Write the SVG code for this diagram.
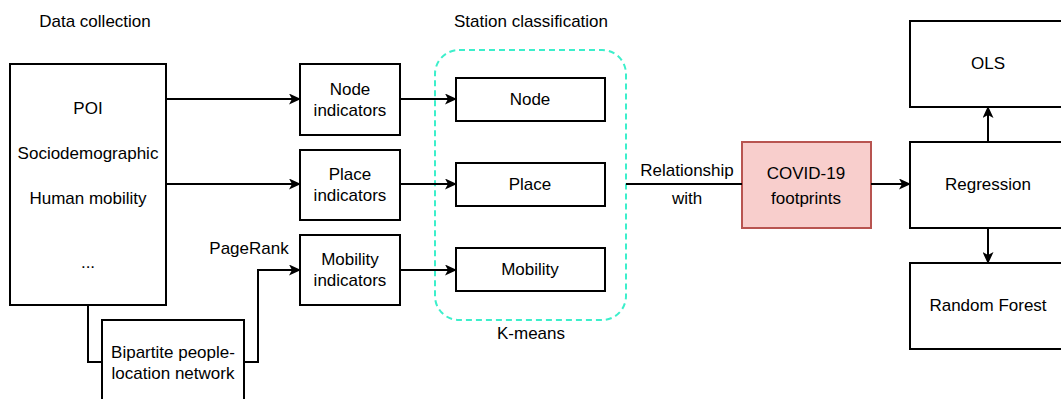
<svg xmlns="http://www.w3.org/2000/svg" width="1061" height="399" viewBox="0 0 1061 399">
<defs>
<style>
.box{fill:#fff;stroke:#000;stroke-width:2}
.t{font-family:"Liberation Sans",Arial,sans-serif;font-size:17px;fill:#000;text-anchor:middle}
.c{fill:none;stroke:#000;stroke-width:2}
</style>
<marker id="ah" viewBox="0 0 12 11" refX="11" refY="5.5" markerWidth="12" markerHeight="11" markerUnits="userSpaceOnUse" orient="auto">
<path d="M0,0 L12,5.5 L0,11 L3,5.5 Z" fill="#000"/>
</marker>
</defs>
<rect width="1061" height="399" fill="#fff"/>
<text class="t" x="95" y="27">Data collection</text>
<text class="t" x="531" y="27">Station classification</text>
<g id="group-kmeans">
<rect x="435" y="50" width="191" height="270" rx="24" ry="24" fill="none" stroke="#3DEFCB" stroke-width="2" stroke-dasharray="6,4"/>
<text class="t" x="531" y="339">K-means</text>
</g>
<g id="data">
<rect class="box" x="10" y="64" width="156" height="241"/>
<text class="t" x="88" y="114">POI</text>
<text class="t" x="88" y="159">Sociodemographic</text>
<text class="t" x="88" y="204">Human mobility</text>
<text class="t" x="88" y="268">...</text>
</g>
<g id="bipartite">
<rect class="box" x="102" y="320" width="142" height="95"/>
<text class="t" x="173" y="358">Bipartite people-</text>
<text class="t" x="173" y="379">location network</text>
</g>
<g id="node-ind">
<rect class="box" x="300" y="64" width="100" height="71"/>
<text class="t" x="350" y="95">Node</text>
<text class="t" x="350" y="116">indicators</text>
</g>
<g id="place-ind">
<rect class="box" x="300" y="150" width="100" height="70"/>
<text class="t" x="350" y="180">Place</text>
<text class="t" x="350" y="201">indicators</text>
</g>
<g id="mob-ind">
<rect class="box" x="300" y="235" width="100" height="70"/>
<text class="t" x="350" y="265">Mobility</text>
<text class="t" x="350" y="286">indicators</text>
</g>
<g id="node">
<rect class="box" x="456" y="78" width="149" height="43"/>
<text class="t" x="530" y="105">Node</text>
</g>
<g id="place">
<rect class="box" x="456" y="163" width="149" height="43"/>
<text class="t" x="530" y="190">Place</text>
</g>
<g id="mobility">
<rect class="box" x="456" y="248" width="149" height="43"/>
<text class="t" x="530" y="275">Mobility</text>
</g>
<g id="covid">
<rect x="742" y="142" width="129" height="86" fill="#F8CECC" stroke="#B85450" stroke-width="2"/>
<text class="t" x="806" y="179">COVID-19</text>
<text class="t" x="806" y="204">footprints</text>
</g>
<g id="regression">
<rect class="box" x="910" y="142" width="156" height="86"/>
<text class="t" x="988" y="190">Regression</text>
</g>
<g id="ols">
<rect class="box" x="910" y="21" width="156" height="86"/>
<text class="t" x="988" y="69">OLS</text>
</g>
<g id="rf">
<rect class="box" x="910" y="263" width="156" height="86"/>
<text class="t" x="988" y="311">Random Forest</text>
</g>
<g id="connectors">
<path class="c" d="M166,99 H300" marker-end="url(#ah)"/>
<path class="c" d="M166,184 H300" marker-end="url(#ah)"/>
<path class="c" d="M88,305 V362 H102"/>
<path class="c" d="M244,362 H258 V270 H300" marker-end="url(#ah)"/>
<text class="t" x="249" y="254">PageRank</text>
<path class="c" d="M400,99 H456" marker-end="url(#ah)"/>
<path class="c" d="M400,184 H456" marker-end="url(#ah)"/>
<path class="c" d="M400,270 H456" marker-end="url(#ah)"/>
<path class="c" d="M626,184 H742"/>
<text class="t" x="687" y="176">Relationship</text>
<text class="t" x="687" y="204">with</text>
<path class="c" d="M871,184 H910" marker-end="url(#ah)"/>
<path class="c" d="M988,142 V107" marker-end="url(#ah)"/>
<path class="c" d="M988,228 V263" marker-end="url(#ah)"/>
</g>
</svg>
